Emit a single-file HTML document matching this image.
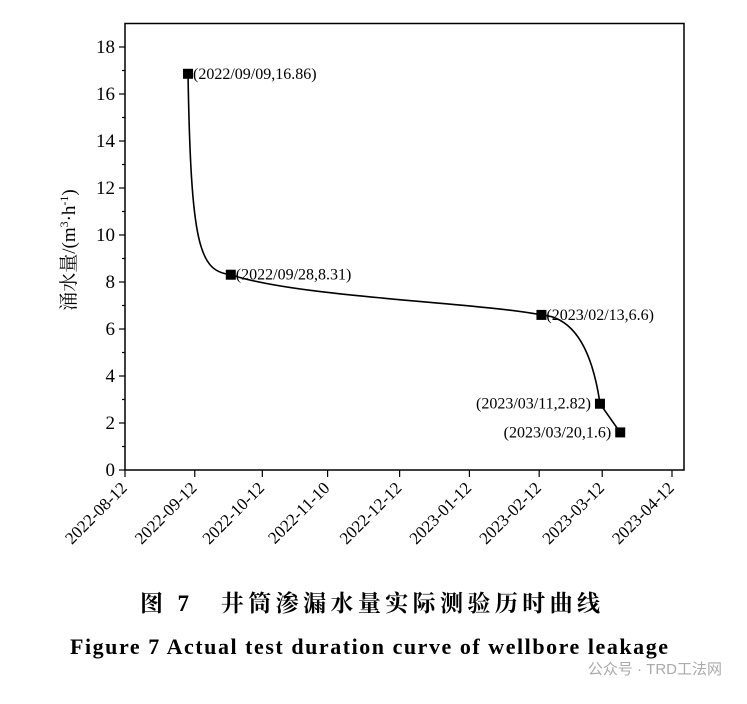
<!DOCTYPE html>
<html><head><meta charset="utf-8"><style>
body{margin:0;background:#fff;width:747px;height:699px;overflow:hidden;font-family:"Liberation Serif","Noto Serif CJK SC",serif}
</style></head><body>
<svg width="747" height="699" viewBox="0 0 747 699" xmlns="http://www.w3.org/2000/svg">
<g id="plot"></g>
<text x="140" y="611" textLength="460" lengthAdjust="spacing" font-size="23" font-weight="bold" font-family="'Liberation Serif','Noto Serif CJK SC',serif">图 7　井筒渗漏水量实际测验历时曲线</text>
<text x="70" y="654" textLength="598" lengthAdjust="spacing" font-size="22" font-weight="bold">Figure 7   Actual test duration curve of wellbore leakage</text>
<text x="722" y="674" text-anchor="end" font-size="15" fill="#aaa" font-family="'Liberation Sans','Noto Sans CJK SC',sans-serif">公众号 · TRD工法网</text>
</svg>
<script>
const dayOffsets=[28,47,185,211,220];
const values=[16.86,8.31,6.6,2.82,1.6];
const pointLabels=["(2022/09/09,16.86)","(2022/09/28,8.31)","(2023/02/13,6.6)","(2023/03/11,2.82)","(2023/03/20,1.6)"];
const xTickDays=[0,31,61,90,122,153,184,212,243];
const xTickLabels=["2022-08-12","2022-09-12","2022-10-12","2022-11-10","2022-12-12","2023-01-12","2023-02-12","2023-03-12","2023-04-12"];
const yTicks=[0,2,4,6,8,10,12,14,16,18];
const NS="http://www.w3.org/2000/svg";
const L=125,R=684,B=470,T=23.5;
const X=d=>L+d*2.251;
const Y=v=>B-(v/19)*(B-T);
const g=document.getElementById('plot');
function mk(t,a,p){const e=document.createElementNS(NS,t);for(const k in a)e.setAttribute(k,a[k]);(p||g).appendChild(e);return e;}
const frame=mk('rect',{x:L,y:T,width:R-L,height:B-T,fill:'none',stroke:'#000','stroke-width':1.5});


for(let v=0;v<=18;v++){
 const major=v%2===0;
 const t=mk('line',{x1:L,x2:L-(major?6:3),y1:Y(v),y2:Y(v),stroke:'#000','stroke-width':1.2});
 
 
}
yTicks.forEach(v=>{
 const t=mk('text',{x:L-10,y:Y(v)+6,'text-anchor':'end','font-size':19});
 t.textContent=v;
 
 
});
xTickDays.forEach((d,i)=>{
 const t=mk('line',{x1:X(d),x2:X(d),y1:B,y2:B+7,stroke:'#000','stroke-width':1.2});
 
 
 const lb=mk('text',{x:X(d)+3,y:B+19,'text-anchor':'end','font-size':17,transform:`rotate(-45 ${X(d)+3} ${B+19})`});
 lb.textContent=xTickLabels[i];
 
 
});
const yt=mk('text',{x:0,y:0,'text-anchor':'middle','font-size':19,transform:`translate(75 250) rotate(-90)`,'font-family':"'Liberation Serif','Noto Serif CJK SC',serif"});
yt.innerHTML='涌水量/(m<tspan font-size="12" dy="-7">3</tspan><tspan dy="7">·h</tspan><tspan font-size="12" dy="-7">-1</tspan><tspan dy="7">)</tspan>';


const c=(d,v)=>X(d).toFixed(1)+','+Y(v).toFixed(1);
const dd=dayOffsets,vv=values;
const P=i=>c(dd[i],vv[i]);
let path=`M${P(0)} C${c(dd[0]+1.3,vv[1]+1.2)} ${c(dd[0]+5,vv[1]+0.15)} ${P(1)}`;
path+=` C${c(dd[1]+30,vv[2]+0.75)} ${c(dd[2]-30,vv[2]+0.55)} ${P(2)}`;
path+=` C${c(dd[2]+16,vv[2]-0.1)} ${c(dd[3]-3,vv[3]+2)} ${P(3)}`;
path+=` L${P(4)}`;
const ln=mk('path',{d:path,fill:'none',stroke:'#000','stroke-width':1.6});


dayOffsets.forEach((d,i)=>{
 const x=X(d),y=Y(values[i]);
 const m=mk('rect',{x:x-5,y:y-5,width:10,height:10,fill:'#000'});
 
 
 const left=i>=3;
 const t=mk('text',{x:left?x-9:x+5,y:y+5,'text-anchor':left?'end':'start','font-size':16});
 t.textContent=pointLabels[i];
 
 
});
</script>
</body></html>
